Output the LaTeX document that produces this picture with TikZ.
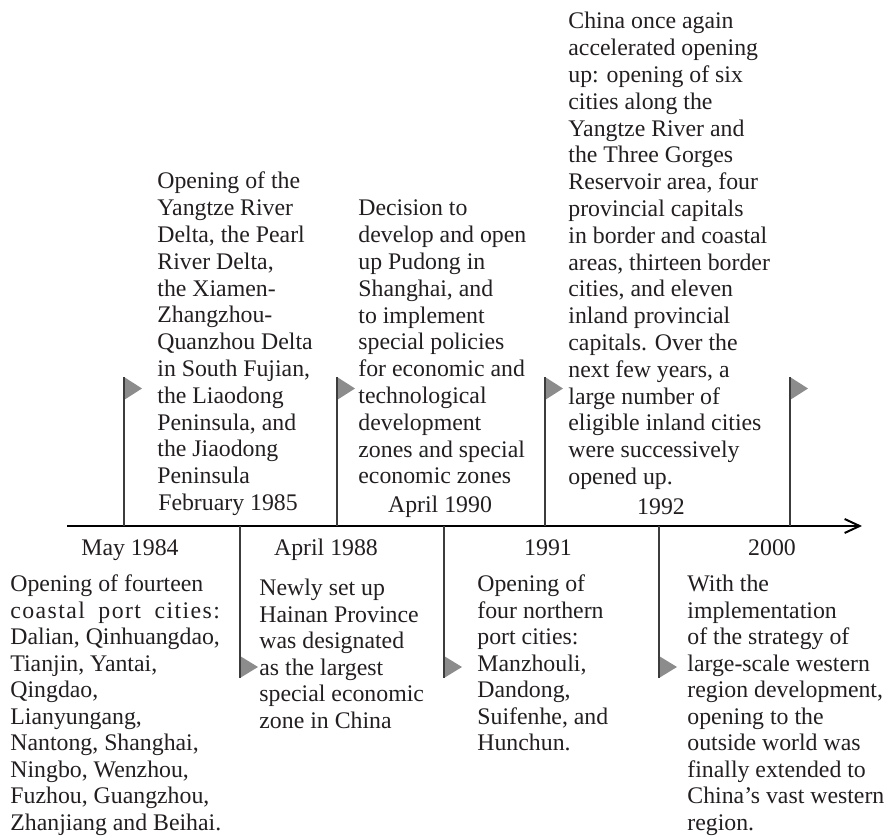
\documentclass[tikz,border=0pt]{standalone}
\usepackage{fontspec}
\setmainfont{Liberation Serif}
\usetikzlibrary{arrows.meta}
\definecolor{textcol}{HTML}{231F20}
\definecolor{polecol}{HTML}{3C3C3C}
\definecolor{flagcol}{HTML}{8C8C8C}
\newlength{\colDwidth}
\newcommand{\tlfont}{\fontsize{11.9pt}{13.4pt}\selectfont}
\newcommand{\tlfontlow}{\fontsize{11.9pt}{13.25pt}\selectfont}
\newcommand{\colpar}[1]{\parbox[t]{160pt}{\raggedright #1}}
\begin{document}
\begin{tikzpicture}[x=0.5pt,y=-0.5pt,
  txt/.style={anchor=base west, inner sep=0pt, text=textcol},
  datelbl/.style={anchor=base, inner sep=0pt, text=textcol, font=\tlfont},
  axisline/.style={draw=black, line width=1pt, -{Straight Barb[length=7.5pt,width=7pt,line width=1pt]}},
  pole/.style={draw=polecol, line width=0.75pt},
  flag/.style={fill=flagcol, draw=none}]
\useasboundingbox (0,0) rectangle (885,838);

% axis
\coordinate (ax0) at (67,526);
\coordinate (ax1) at (862,526);
\draw[axisline] (ax0) -- (ax1);

% upward poles with flags
\foreach \x/\n in {124/p1,337/p3,545/p5,790/p7} {
  \coordinate (\n b) at (\x,526);
  \coordinate (\n t) at (\x,377);
  \fill[flag] (\n t) -- ++(18,11.5) -- ++(-18,11.5) -- cycle;
  \draw[pole] (\n b) -- (\n t);
}
% downward poles with flags
\foreach \x/\n in {240/p2,444/p4,659/p6} {
  \coordinate (\n b) at (\x,526);
  \coordinate (\n t) at (\x,678);
  \fill[flag] (\n t) -- ++(18,-11) -- ++(-18,-11) -- cycle;
  \draw[pole] (\n b) -- (\n t);
}

% dates above the axis
\node[datelbl] (dA) at (228,511) {February 1985};
\node[datelbl] (dB) at (440,513) {April 1990};
\node[datelbl] (dC) at (661,515) {1992};
% dates below the axis
\node[datelbl] (dD) at (130,556) {May 1984};
\node[datelbl] (dE) at (326,556) {April 1988};
\node[datelbl] (dF) at (548,556) {1991};
\node[datelbl] (dG) at (772,556) {2000};

% texts above
\node[txt] (tA) at (157,189) {\colpar{\tlfont Opening of the\\ Yangtze River\\ Delta, the Pearl\\ River Delta,\\ the Xiamen-\\ Zhangzhou-\\ Quanzhou Delta\\ in South Fujian,\\ the Liaodong\\ Peninsula, and\\ the Jiaodong\\ Peninsula}};
\node[txt] (tB) at (358,216) {\colpar{\tlfont Decision to\\ develop and open\\ up Pudong in\\ Shanghai, and\\ to implement\\ special policies\\ for economic and\\ technological\\ development\\ zones and special\\ economic zones}};
\node[txt] (tC) at (568,29) {\colpar{\tlfont China once again\\ accelerated opening\\ up: opening of six\\ cities along the\\ Yangtze River and\\ the Three Gorges\\ Reservoir area, four\\ provincial capitals\\ in border and coastal\\ areas, thirteen border\\ cities, and eleven\\ inland provincial\\ capitals. Over the\\ next few years, a\\ large number of\\ eligible inland cities\\ were successively\\ opened up.}};

% texts below
\node[txt] (tD) at (10,592) {\colpar{\tlfontlow\settowidth{\colDwidth}{Dalian, Qinhuangdao,}Opening of fourteen\\ \makebox[\colDwidth][s]{\addfontfeature{LetterSpace=6}coastal port cities:}\\ Dalian, Qinhuangdao,\\ Tianjin, Yantai,\\ Qingdao,\\ Lianyungang,\\ Nantong, Shanghai,\\ Ningbo, Wenzhou,\\ Fuzhou, Guangzhou,\\ Zhanjiang and Beihai.}};
\node[txt] (tE) at (259,596) {\colpar{\tlfontlow Newly set up\\ Hainan Province\\ was designated\\ as the largest\\ special economic\\ zone in China}};
\node[txt] (tF) at (477,592) {\colpar{\tlfontlow Opening of\\ four northern\\ port cities:\\ Manzhouli,\\ Dandong,\\ Suifenhe, and\\ Hunchun.}};
\node[txt] (tG) at (687,592) {\colpar{\tlfontlow With the\\ implementation\\ of the strategy of\\ large-scale western\\ region development,\\ opening to the\\ outside world was\\ finally extended to\\ China’s vast western\\ region.}};
\end{tikzpicture}
\end{document}
